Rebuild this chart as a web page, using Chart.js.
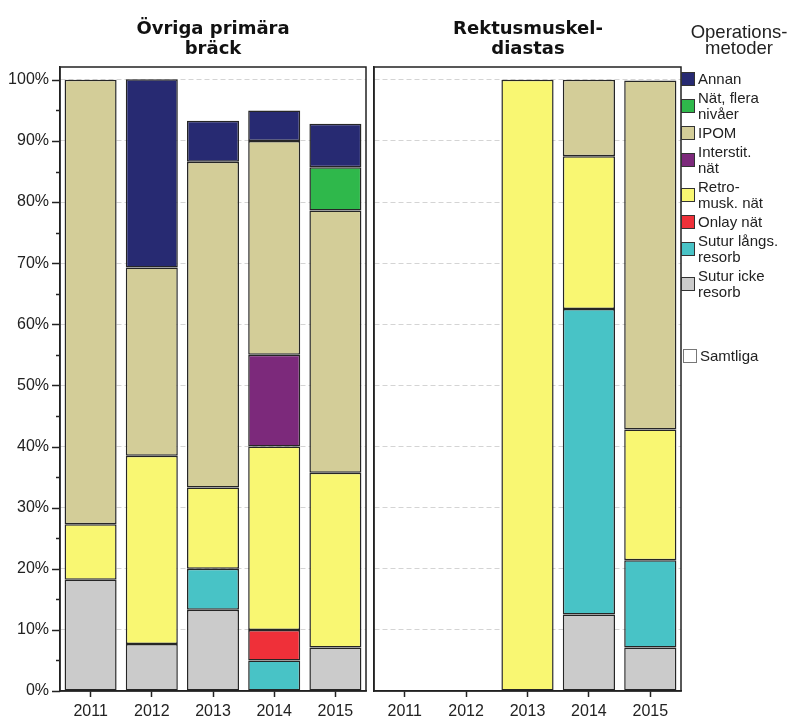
<!DOCTYPE html>
<html>
<head>
<meta charset="utf-8">
<script src="https://cdn.jsdelivr.net/npm/chart.js@4.4.1/dist/chart.umd.min.js"></script>
<style>
    body { margin: 0; background: #fff; width: 789px; height: 717px; position: relative; overflow: hidden; font-family: "Liberation Sans", Arial, sans-serif; color: #222; }
    canvas { position: absolute; top: 0; }
    #chart-left { left: 0; }
    #chart-right { left: 372px; }
    .panel-title { position: absolute; top: 18px; width: 300px; text-align: center; font: bold 18px "DejaVu Sans", sans-serif; line-height: 20px; color: #111; white-space: pre; }
    #title-left { left: 63px; }
    #title-right { left: 378px; }
    #legend-title { position: absolute; left: 686px; top: 24px; width: 106px; text-align: center; font-size: 18.5px; line-height: 16px; white-space: pre; }
    #legend { position: absolute; left: 681px; top: 71px; width: 108px; font-size: 15px; line-height: 16px; }
    .item { display: flex; align-items: center; margin-bottom: 3px; }
    .swatch { width: 12px; height: 12px; border: 1.5px solid #333; flex: none; margin-right: 3px; }
    .label { white-space: pre; }
    #total { position: absolute; left: 683px; top: 347px; display: flex; align-items: center; font-size: 15px; }
    #total .swatch { background: #fff; border-color: #777; }
</style>
</head>
<body>
<canvas id="chart-left" width="372" height="717"></canvas>
<canvas id="chart-right" width="317" height="717"></canvas>
<div class="panel-title" id="title-left"></div>
<div class="panel-title" id="title-right"></div>
<div id="legend-title"></div>
<div id="legend"></div>
<div id="total"><span class="swatch"></span><span class="label">Samtliga</span></div>

<script>
// Data: percent of operations per year and method
const years = ['2011', '2012', '2013', '2014', '2015'];
const panelTitles = ['Övriga primära\nbräck', 'Rektusmuskel-\ndiastas'];
const legendTitle = 'Operations-\nmetoder';

// stacking order, bottom to top
const methods = ['Sutur icke\nresorb', 'Sutur långs.\nresorb', 'Onlay nät', 'Retro-\nmusk. nät',
                 'Interstit.\nnät', 'IPOM', 'Nät, flera\nnivåer', 'Annan'];
const methodColors = ['#cbcbcb', '#48c3c6', '#ef3039', '#f9f772', '#7c297b', '#d3cd98', '#2fb84b', '#272a72'];

// Övriga primära bräck
const suturIckeLeft  = [18.2, 7.7, 13.3, 0, 7.1];
const suturLangsLeft = [0, 0, 6.7, 5, 0];
const onlayLeft      = [0, 0, 0, 5, 0];
const retroLeft      = [9.1, 30.8, 13.3, 30, 28.6];
const interstitLeft  = [0, 0, 0, 15, 0];
const ipomLeft       = [72.7, 30.8, 53.3, 35, 42.9];
const flerLeft       = [0, 0, 0, 0, 7.1];
const annanLeft      = [0, 30.8, 6.7, 5, 7.1];

// Rektusmuskeldiastas
const suturIckeRight  = [0, 0, 0, 12.5, 7.1];
const suturLangsRight = [0, 0, 0, 50, 14.3];
const onlayRight      = [0, 0, 0, 0, 0];
const retroRight      = [0, 0, 100, 25, 21.4];
const interstitRight  = [0, 0, 0, 0, 0];
const ipomRight       = [0, 0, 0, 12.5, 57.1];
const flerRight       = [0, 0, 0, 0, 0];
const annanRight      = [0, 0, 0, 0, 0];

const leftSeries = [suturIckeLeft, suturLangsLeft, onlayLeft, retroLeft, interstitLeft, ipomLeft, flerLeft, annanLeft];
const rightSeries = [suturIckeRight, suturLangsRight, onlayRight, retroRight, interstitRight, ipomRight, flerRight, annanRight];

// y ticks every 5%, labelled every 10%
const yTicks = [];
for (let v = 0; v <= 100; v += 5) yTicks.push(v);

const tickFont = { family: '"Liberation Sans", Arial, sans-serif', size: 16 };
const ink = '#222';

// frame round each panel, plus short/long ticks on the y axis
const framePlugin = {
    id: 'frame',
    afterDraw(chart, args, opts) {
        const { ctx, chartArea: a } = chart;
        ctx.save();
        ctx.strokeStyle = ink;
        ctx.lineWidth = 1.5;
        ctx.strokeRect(a.left, a.top, a.right - a.left, a.bottom - a.top);
        if (opts.ticks) {
            const y = chart.scales.y;
            yTicks.forEach(v => {
                const py = Math.round(y.getPixelForValue(v)) + 0.5;
                const len = v % 10 === 0 ? 8 : 4;
                ctx.beginPath();
                ctx.moveTo(a.left - len, py);
                ctx.lineTo(a.left, py);
                ctx.stroke();
            });
        }
        ctx.restore();
    }
};

function makeChart(id, series, showLabels) {
    const datasets = series.map((values, i) => ({
        label: methods[i].replace('\n', ' '),
        data: values.map(v => v || null),
        backgroundColor: methodColors[i],
        borderColor: '#262626',
        borderWidth: 1.5,
        borderSkipped: false,
        barPercentage: 0.85,
        categoryPercentage: 1
    }));

    return new Chart(document.getElementById(id), {
        type: 'bar',
        data: { labels: years, datasets: datasets },
        options: {
            responsive: false,
            animation: false,
            devicePixelRatio: 1,
            layout: { padding: { top: 67, right: showLabels ? 6 : 8, left: 0, bottom: 0 } },
            scales: {
                x: {
                    stacked: true,
                    afterFit: s => { s.height = 26; },
                    grid: { drawOnChartArea: false, offset: false, tickLength: 6, tickColor: ink, tickWidth: 1.5 },
                    border: { color: ink, width: 1.5 },
                    ticks: { font: tickFont, color: ink, padding: 5, maxRotation: 0 }
                },
                y: {
                    stacked: true,
                    min: 0,
                    max: 102.1,
                    afterFit: s => { s.width = showLabels ? 60 : 2; },
                    afterBuildTicks: s => { s.ticks = yTicks.map(v => ({ value: v })); },
                    grid: {
                        drawTicks: false,
                        color: c => (c.tick && c.tick.value > 0 && c.tick.value % 10 === 0) ? '#d4d4d4' : 'rgba(0,0,0,0)',
                        lineWidth: 1
                    },
                    border: { color: ink, width: 1.5, dash: [5, 3] },
                    ticks: {
                        display: showLabels,
                        padding: 11,
                        font: tickFont,
                        color: ink,
                        callback: v => v % 10 === 0 ? v + '%' : ''
                    }
                }
            },
            plugins: {
                legend: { display: false },
                tooltip: { enabled: false },
                frame: { ticks: showLabels }
            }
        },
        plugins: [framePlugin]
    });
}

makeChart('chart-left', leftSeries, true);
makeChart('chart-right', rightSeries, false);

document.getElementById('title-left').textContent = panelTitles[0];
document.getElementById('title-right').textContent = panelTitles[1];
document.getElementById('legend-title').textContent = legendTitle;

// legend is listed top to bottom, reverse of the stacking order
const legend = document.getElementById('legend');
for (let i = methods.length - 1; i >= 0; i--) {
    const row = document.createElement('div');
    row.className = 'item';
    row.innerHTML = `<span class="swatch" style="background:${methodColors[i]}"></span><span class="label"></span>`;
    row.querySelector('.label').textContent = methods[i];
    legend.appendChild(row);
}
</script>
</body>
</html>
